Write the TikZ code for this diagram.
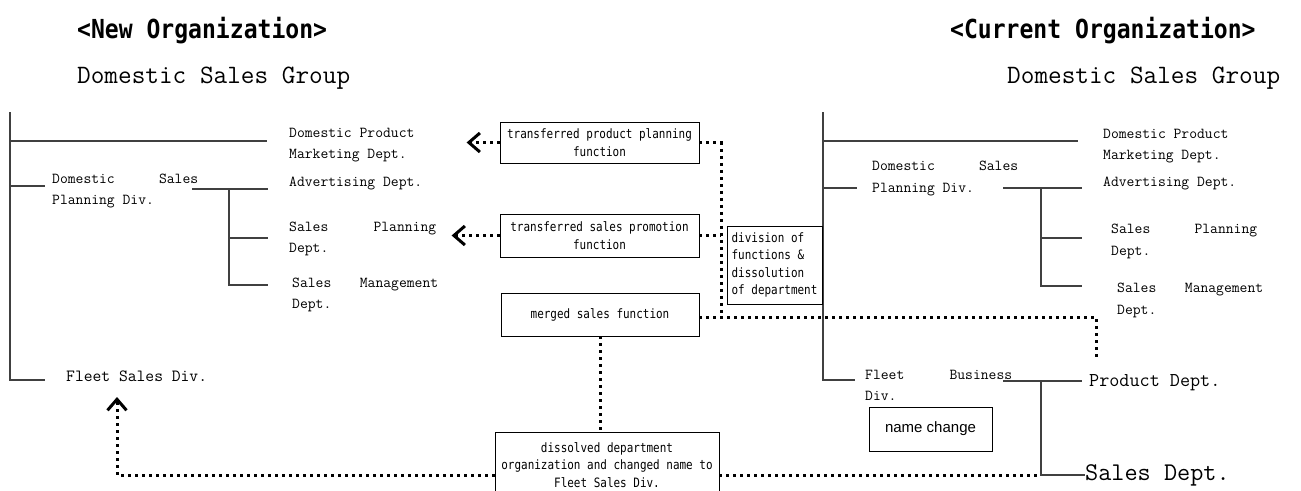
\documentclass[tikz,border=0pt]{standalone}
\usepackage{fontspec}
\usetikzlibrary{arrows.meta}

\newfontfamily\minfont{Latin Modern Mono}
\newfontfamily\gotfont[FakeStretch=0.85]{DejaVu Sans Mono}
\newfontfamily\ttlfont[FakeStretch=0.88]{DejaVu Sans Mono}
\newfontfamily\arialfont{Liberation Sans}
\newcommand{\spreadln}[3]{\makebox[#1][l]{#2\hfill #3}}

\tikzset{
    orgline/.style={line width=1.2pt, black!75},
    dept/.style={inner sep=0pt, anchor=west, align=left, font=\minfont\fontsize{15.2}{21.5}\selectfont},
    fnbox/.style={draw, line width=0.8pt, inner sep=0pt, align=center, font=\gotfont\fontsize{12.9}{17.5}\selectfont},
    dotline/.style={line width=3pt, dash pattern=on 3pt off 4pt},
    chev/.style={-{Straight Barb[length=11pt,width=19pt]}}
}

\begin{document}
\begin{tikzpicture}[x=1pt,y=-1pt]
    \useasboundingbox (0,0) rectangle (1301,490);

    % titles
    \node[anchor=base west, inner sep=0pt, font=\ttlfont\bfseries\fontsize{26.2}{30}\selectfont] (newttl) at (77,38) {<New Organization>};
    \node[anchor=base west, inner sep=0pt, font=\minfont\fontsize{26.5}{30}\selectfont] (newgrp) at (77,83) {Domestic Sales Group};
    \node[anchor=base west, inner sep=0pt, font=\ttlfont\bfseries\fontsize{26.2}{30}\selectfont] (curttl) at (950,38) {<Current Organization>};
    \node[anchor=base west, inner sep=0pt, font=\minfont\fontsize{26.5}{30}\selectfont] (curgrp) at (1007,83) {Domestic Sales Group};

    % new organization
    \node[dept] (ldpm) at (289,145) {Domestic Product\\Marketing Dept.};
    \node[dept] (ldsp) at (52,191) {\spreadln{146pt}{Domestic}{Sales}\\Planning Div.};
    \node[dept] (ladv) at (289,183) {Advertising Dept.};
    \node[dept] (lspl) at (289,239) {\spreadln{147pt}{Sales}{Planning}\\Dept.};
    \node[dept] (lsmg) at (292,295) {\spreadln{146pt}{Sales}{Management}\\Dept.};
    \node[dept, font=\minfont\fontsize{17.1}{20}\selectfont] (lflt) at (66,376) {Fleet Sales Div.};

    \coordinate (lt) at (10,112);
    \coordinate (lb) at (10,380);
    \coordinate (lsj) at (229,189);
    \draw[orgline] (lt) -- (lb) -- +(35,0);
    \draw[orgline] (lt |- 0,141) -- +(257,0);
    \draw[orgline] (lt |- 0,186) -- +(35,0);
    \draw[orgline] (192,189) -- (268,189);
    \draw[orgline] (lsj) -- (lsj |- 0,285) -- +(39,0);
    \draw[orgline] (lsj |- 0,238) -- +(39,0);

    % current organization
    \node[dept] (rdpm) at (1103,146) {Domestic Product\\Marketing Dept.};
    \node[dept] (rdsp) at (872,178.5) {\spreadln{146pt}{Domestic}{Sales}\\Planning Div.};
    \node[dept] (radv) at (1103,183) {Advertising Dept.};
    \node[dept] (rspl) at (1111,241.5) {\spreadln{146pt}{Sales}{Planning}\\Dept.};
    \node[dept] (rsmg) at (1117,300.5) {\spreadln{146pt}{Sales}{Management}\\Dept.};
    \node[dept] (rflt) at (865,385.5) {\spreadln{147pt}{Fleet}{Business}\\Div.};
    \node[dept, font=\minfont\fontsize{19.6}{22}\selectfont] (rprod) at (1089,383) {Product Dept.};
    \node[dept, font=\minfont\fontsize{25.5}{28}\selectfont] (rsales) at (1085,475) {Sales Dept.};

    \coordinate (rt) at (823,112);
    \coordinate (rb) at (823,380);
    \coordinate (rsj) at (1041,188);
    \coordinate (rfj) at (1041,381);
    \draw[orgline] (rt) -- (rb) -- +(32,0);
    \draw[orgline] (rt |- 0,141) -- (1078,141);
    \draw[orgline] (rt |- 0,188) -- +(34,0);
    \draw[orgline] (1003,188) -- (1082,188);
    \draw[orgline] (rsj) -- (rsj |- 0,286) -- +(41,0);
    \draw[orgline] (rsj |- 0,238) -- +(41,0);
    \draw[orgline] (1003,381) -- (1082,381);
    \draw[orgline] (rfj) -- (rfj |- rsales.west) -- (rsales.west);

    % changes
    \node[fnbox, minimum width=199pt, minimum height=41pt] (bprod) at (599.5,142.5) {transferred product planning\\function};
    \node[fnbox, minimum width=199pt, minimum height=43pt] (bpromo) at (599.5,235.5) {transferred sales promotion\\function};
    \node[fnbox, minimum width=198pt, minimum height=43pt] (bmerge) at (600,314.5) {merged sales function};
    \node[fnbox, align=left, minimum width=95pt, minimum height=78pt] (bdiv) at (774.5,265) {division of\\functions \&\\dissolution\\of department};
    \node[fnbox, minimum width=224pt, minimum height=66pt] (bdiss) at (607,465) {dissolved department\\organization and changed name to\\Fleet Sales Div.};
    \node[fnbox, font=\arialfont\fontsize{15}{18}\selectfont, minimum width=123pt, minimum height=44pt] (bname) at (930.5,429) {name change};

    \coordinate (jn) at (721,317);
    \coordinate (pdtop) at (1096,360);
    \coordinate (fltip) at (117,397);
    \coordinate (sdj) at (1041,475);

    \draw[dotline, chev] (bprod.west) -- +(-33,0);
    \draw[dotline, chev] (bpromo.west) -- +(-48,0);
    \draw[dotline] (bprod.east) -| (jn);
    \draw[dotline] (bpromo.east) -- (bpromo.east -| jn);
    \draw[dotline] (bmerge.east |- jn) -- (pdtop |- jn) -- (pdtop);
    \draw[dotline] (bmerge.south) -- (bmerge.south |- bdiss.north);
    \draw[dotline, chev] (bdiss.west |- rsales.west) -| (fltip);
    \draw[dotline] (bdiss.east |- rsales.west) -- (sdj);

\end{tikzpicture}
\end{document}
